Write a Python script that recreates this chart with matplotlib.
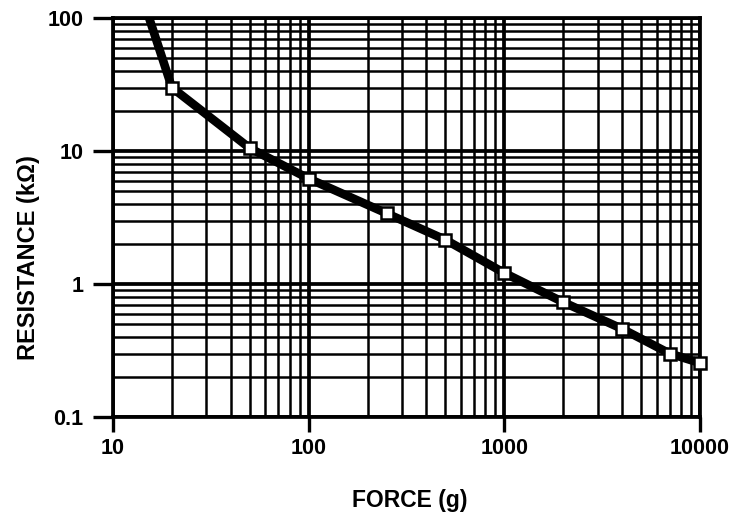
import matplotlib
matplotlib.use('Agg')
import matplotlib.pyplot as plt
from matplotlib.ticker import LogLocator, NullFormatter, FixedLocator

# Данные: сила (г) и сопротивление (кОм)
force = [15.3, 20, 50, 100, 250, 500, 1000, 2000, 4000, 7000, 10000]
resistance = [100, 30, 10.5, 6.2, 3.4, 2.15, 1.21, 0.73, 0.46, 0.30, 0.255]

x_ticks = [10, 100, 1000, 10000]
x_tick_labels = ['10', '100', '1000', '10000']
y_ticks = [0.1, 1, 10, 100]
y_tick_labels = ['0.1', '1', '10', '100']

plt.rcParams['font.family'] = ['Liberation Sans', 'DejaVu Sans']
plt.rcParams['font.weight'] = 'bold'

fig = plt.figure(figsize=(7.32, 5.12), dpi=100)
ax = fig.add_axes([113 / 732, 1 - 417 / 512, 587 / 732, 399 / 512])

ax.set_xscale('log')
ax.set_yscale('log')
ax.set_xlim(10, 10000)
ax.set_ylim(0.1, 100)

# Сетка
ax.xaxis.set_major_locator(FixedLocator(x_ticks))
ax.yaxis.set_major_locator(FixedLocator(y_ticks))
ax.xaxis.set_minor_locator(LogLocator(base=10, subs=range(2, 10)))
ax.yaxis.set_minor_locator(LogLocator(base=10, subs=range(2, 10)))
ax.xaxis.set_minor_formatter(NullFormatter())
ax.yaxis.set_minor_formatter(NullFormatter())
ax.set_xticklabels(x_tick_labels)
ax.set_yticklabels(y_tick_labels)
ax.grid(which='major', color='black', linewidth=2.7)
ax.grid(which='minor', color='black', linewidth=1.8)
ax.set_axisbelow(True)

for s in ax.spines.values():
    s.set_linewidth(2.7)

ax.tick_params(axis='y', which='major', length=14.5, width=2.4, pad=7, labelsize=15.5)
ax.tick_params(axis='x', which='major', length=11, width=2.4, pad=4, labelsize=15.5)
ax.tick_params(which='minor', length=0)

# Кривая
ax.plot(force, resistance, color='black', linewidth=6.2, solid_joinstyle='round', zorder=5)
ax.plot(force[1:], resistance[1:], linestyle='none',
        marker='s', markersize=8.5, markerfacecolor='white', markeredgecolor='black',
        markeredgewidth=1.8, clip_on=False, zorder=6)

ax.set_xlabel('FORCE (g)', fontsize=16.5, fontweight='bold')
ax.set_ylabel('RESISTANCE (k\u03a9)', fontsize=17, fontweight='bold')
ax.xaxis.set_label_coords((410 - 113) / 587, -(500 - 417) / 399)
ax.yaxis.set_label_coords(-(113 - 29) / 587, (417 - 258) / 399)
ax.xaxis.label.set_va('center')
ax.yaxis.label.set_va('center')

fig.savefig('out.png', dpi=100)
